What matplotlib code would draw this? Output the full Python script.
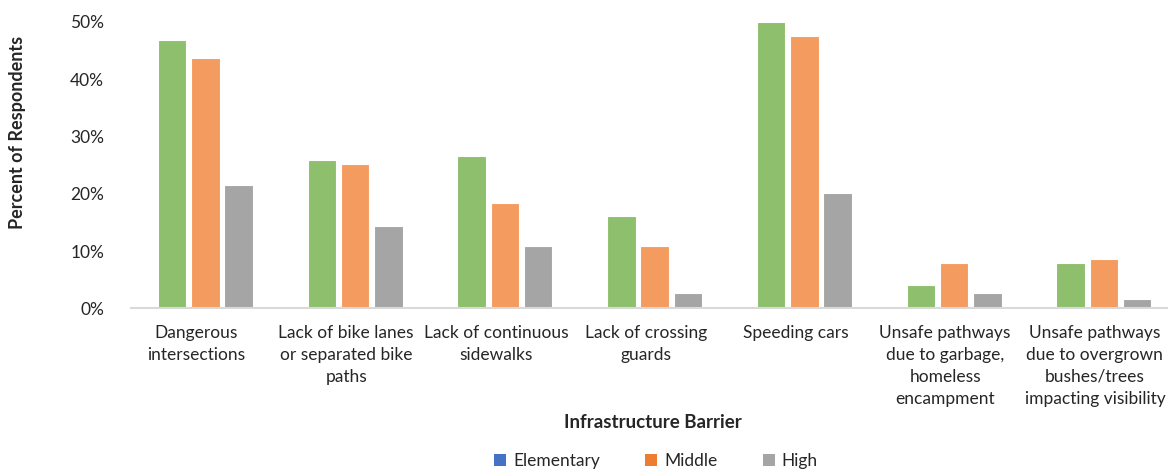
import matplotlib.pyplot as plt
import numpy as np
from matplotlib.patches import Patch

# Werte (Prozent)
categories = [
    "Dangerous\nintersections",
    "Lack of bike lanes\nor separated bike\npaths",
    "Lack of continuous\nsidewalks",
    "Lack of crossing\nguards",
    "Speeding cars",
    "Unsafe pathways\ndue to garbage,\nhomeless\nencampment",
    "Unsafe pathways\ndue to overgrown\nbushes/trees\nimpacting visibility",
]
elementary = [46.9, 25.8, 26.6, 16.1, 50.0, 4.1, 7.9]
middle = [43.7, 25.1, 18.4, 10.9, 47.5, 7.9, 8.6]
high = [21.5, 14.4, 10.8, 2.6, 20.1, 2.6, 1.7]
series_names = ["Elementary", "Middle", "High"]
yticks = [0, 10, 20, 30, 40, 50]

bar_colors = ["#8DBF6D", "#F49B5F", "#A5A5A5"]
legend_colors = ["#4472C4", "#ED7D31", "#A5A5A5"]
text_color = "#262626"

plt.rcParams['font.family'] = ['Liberation Sans Narrow', 'Lato', 'DejaVu Sans']

fig = plt.figure(figsize=(11.68, 4.74), dpi=100)
left = 130.5 / 1168
ax = fig.add_axes([left, 1 - 308.3 / 474, 1 - left, (308.3 - 21.8) / 474])

x = np.arange(len(categories))
step = 0.222
width = 0.19
for j, vals in enumerate([elementary, middle, high]):
    ax.bar(x + (j - 1) * step, np.array(vals) / 100, width,
           color=bar_colors[j], edgecolor="white", linewidth=0.8, zorder=2)

ax.set_xlim(-0.5, -0.5 + (1168 - 130.5) / 149.75)
ax.set_ylim(0, 0.5)
ax.set_yticks([t / 100 for t in yticks])
ax.set_yticklabels([f"{t}%" for t in yticks])
ax.set_xticks(x - 0.06)
ax.set_xticklabels(categories, linespacing=1.45)

for s in ["top", "right", "left"]:
    ax.spines[s].set_visible(False)
ax.spines["bottom"].set_color("#D9D9D9")
ax.spines["bottom"].set_linewidth(1.5)
ax.spines["bottom"].set_zorder(3)
ax.tick_params(axis="both", length=0, labelsize=12.5, colors=text_color)
ax.tick_params(axis="y", pad=19)
ax.tick_params(axis="x", pad=12)

fig.text(18 / 1168, 1 - 132 / 474, "Percent of Respondents", rotation=90,
         ha="center", va="center", fontsize=13, fontweight="bold", color=text_color)
fig.text(653 / 1168, 1 - 423 / 474, "Infrastructure Barrier",
         ha="center", va="center", fontsize=13.5, fontweight="bold", color=text_color)

handles = [Patch(facecolor=c, edgecolor="none") for c in legend_colors]
fig.legend(handles, series_names, loc="center", bbox_to_anchor=(656 / 1168, 1 - 461 / 474),
           ncol=3, frameon=False, fontsize=12.5, handlelength=0.7, handleheight=0.7,
           handletextpad=0.4, columnspacing=2.6, labelcolor=text_color)

plt.savefig("out.png", dpi=100)
